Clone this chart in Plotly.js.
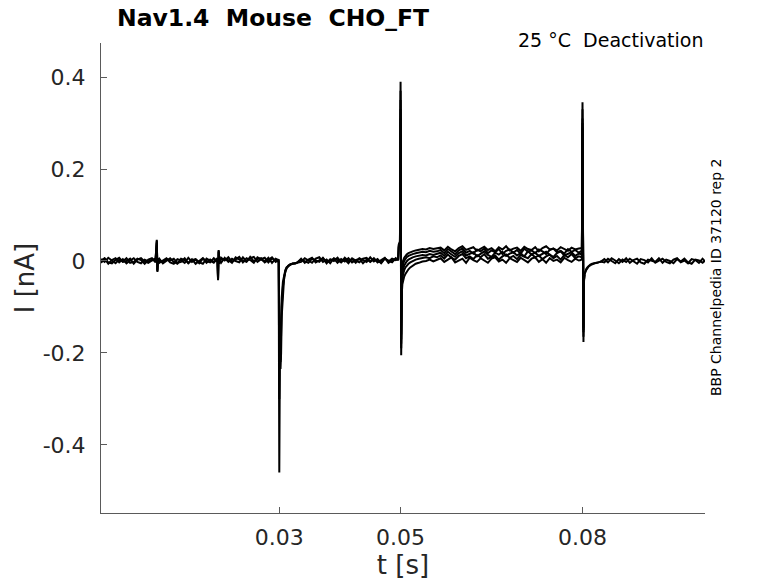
<!DOCTYPE html>
<html>
<head>
<meta charset="utf-8">
<script src="https://cdn.plot.ly/plotly-3.0.1.min.js"></script>
<style>
  html, body { margin: 0; padding: 0; background: #fff; }
  #chart { width: 778px; height: 583px; }
</style>
</head>
<body>
<div id="chart"></div>
<script>
// sample times [s], holding + step (all sweeps identical up to 0.05 s)
const tPre = [
  0.0006,0.0012,0.0018,0.0024,0.0030,0.0036,0.0042,0.0048,0.0054,0.0060,0.0066,0.0072,0.0078,0.0084,0.0090,0.0096,
  0.0098,0.0099,0.0100,0.0102,0.0108,0.0114,0.0120,0.0126,0.0132,0.0138,0.0144,0.0150,0.0156,0.0162,0.0168,0.0174,0.0180,0.0186,0.0192,0.0198,
  0.0199,0.0200,0.0201,0.0204,0.0210,0.0216,0.0222,0.0228,0.0234,0.0240,0.0246,0.0252,0.0258,0.0264,0.0270,0.0276,0.0282,0.0288,0.0294,0.0299,
  0.0300,0.0301,0.0302,0.0303,0.0304,0.0306,0.0308,0.0310,0.0312,0.0315,0.0318,0.0322,0.0326,0.0330,
  0.0336,0.0342,0.0348,0.0354,0.0360,0.0366,0.0372,0.0378,0.0384,0.0390,0.0396,0.0402,0.0408,0.0414,0.0420,0.0426,0.0432,0.0438,0.0444,0.0450,0.0456,0.0462,0.0468,0.0474,0.0480,0.0486,0.0492,
  0.0496,0.0497,0.0499
];
const iPreA = [
  0.004,-0.002,0.007,0.001,-0.005,0.003,-0.001,0.006,-0.004,-0.002,0.005,0.002,-0.006,0.003,0.006,-0.003,
  0.046,-0.024,0.006,-0.004,0.002,0.006,-0.003,-0.006,0.004,0.001,-0.004,0.007,-0.002,0.003,-0.005,0.005,0.000,-0.003,0.006,-0.001,
  -0.042,0.024,-0.006,0.007,0.001,0.008,-0.002,0.004,0.009,-0.003,0.006,0.002,-0.004,0.008,0.003,-0.001,0.007,-0.004,0.005,0.002,
  -0.46,-0.20,-0.22,-0.13,-0.08,-0.045,-0.030,-0.020,-0.014,-0.010,-0.007,-0.006,-0.005,-0.004,
  -0.002,0.006,0.001,-0.004,0.005,0.008,-0.002,0.003,-0.005,0.006,0.002,-0.003,0.007,0.000,0.004,-0.004,0.006,0.002,-0.002,0.008,-0.001,0.004,-0.005,0.005,0.001,-0.003,0.006,
  0.002,0.030,0.040
];
const iPreB = [
  -0.004,0.005,-0.006,0.002,0.006,-0.003,0.004,-0.005,0.001,0.006,-0.002,-0.005,0.003,-0.001,0.002,0.005,
  0.040,-0.020,0.002,0.005,-0.005,0.001,0.006,-0.002,-0.006,0.005,0.002,-0.004,0.004,-0.006,0.001,0.006,-0.004,0.003,-0.002,0.005,
  -0.038,0.020,0.004,-0.004,0.007,-0.002,0.005,0.000,-0.003,0.008,-0.001,0.006,0.009,-0.002,0.004,0.007,-0.003,0.006,0.001,-0.002,
  -0.13,-0.14,-0.235,-0.20,-0.12,-0.060,-0.035,-0.024,-0.016,-0.011,-0.008,-0.005,-0.006,-0.003,
  0.005,-0.004,0.003,0.007,-0.003,0.001,0.006,-0.005,0.004,0.000,0.007,-0.002,0.003,-0.005,0.006,0.001,-0.003,0.005,0.007,-0.002,0.004,0.000,-0.004,0.006,-0.001,0.005,0.002,
  0.004,0.036,0.042
];
const iPreC = [
  0.001,0.006,-0.003,-0.005,0.002,0.007,-0.002,0.000,0.005,-0.006,0.003,0.006,-0.001,-0.004,0.001,0.004,
  0.044,-0.022,0.004,0.001,-0.003,0.004,0.001,0.005,-0.004,-0.002,0.006,-0.005,0.002,0.004,-0.003,-0.006,0.005,0.001,-0.004,0.006,
  -0.040,0.022,0.001,0.003,0.005,0.002,-0.004,0.008,0.003,0.001,-0.002,0.009,-0.001,0.004,0.006,-0.003,0.002,0.008,-0.002,0.003,
  -0.30,-0.18,-0.215,-0.15,-0.10,-0.055,-0.032,-0.022,-0.015,-0.010,-0.008,-0.006,-0.004,-0.003,
  0.003,0.000,-0.004,0.005,0.002,-0.002,0.007,-0.003,0.001,0.005,-0.004,0.004,-0.001,0.006,-0.003,0.002,0.005,-0.005,0.003,-0.001,0.006,-0.003,0.002,0.007,-0.004,0.001,0.004,
  0.003,0.033,0.041
];

// deactivation tail, 0.05 - 0.08 s, one array per sweep
const tTail = [
  0.0499,0.0500,0.05005,0.0501,0.05015,0.0502,0.0503,0.0504,0.0506,0.0508,0.0510,0.0513,0.0516,0.0520,0.0525,0.0530,0.0536,0.0542,0.0548,0.0554,0.0560,
  0.0566,0.0572,0.0578,0.0584,0.0590,0.0596,0.0602,0.0608,0.0614,0.0620,0.0626,0.0632,0.0638,0.0644,0.0650,0.0656,0.0662,0.0668,0.0674,0.0680,
  0.0686,0.0692,0.0698,0.0704,0.0710,0.0716,0.0722,0.0728,0.0734,0.0740,0.0746,0.0752,0.0758,0.0764,0.0770,0.0776,0.0782,0.0788,0.0794,
  0.0797,0.0799,0.0800,0.08008,0.08016,0.0802,0.0803
];
const iTail1 = [
  0.040,0.39,0.10,-0.205,-0.12,-0.07,-0.050,-0.042,-0.034,-0.028,-0.023,-0.018,-0.014,-0.010,-0.006,-0.004,-0.001,0.000,0.003,-0.001,0.002,
  0.006,-0.002,0.004,0.008,-0.003,0.001,0.005,-0.004,0.007,0.002,-0.002,0.006,0.000,-0.004,0.005,0.008,-0.001,0.003,-0.004,0.006,
  0.002,-0.002,0.007,0.001,-0.003,0.005,0.008,-0.002,0.004,-0.004,0.006,0.000,0.003,-0.003,0.007,0.002,-0.002,0.005,0.001,
  0.002,0.004,0.345,0.05,-0.176,-0.06,-0.030
];
const iTail2 = [
  0.040,0.37,0.09,-0.19,-0.11,-0.06,-0.035,-0.028,-0.020,-0.014,-0.010,-0.006,-0.003,0.000,0.003,0.005,0.006,0.008,0.006,0.010,0.008,
  0.012,0.005,0.014,0.007,0.003,0.011,0.015,0.006,0.010,0.004,0.013,0.008,0.015,0.005,0.009,0.012,0.003,0.010,0.014,0.007,
  0.011,0.004,0.013,0.009,0.006,0.015,0.008,0.012,0.004,0.010,0.014,0.006,0.011,0.003,0.013,0.008,0.015,0.006,0.010,
  0.009,0.010,0.33,0.04,-0.165,-0.055,-0.030
];
const iTail3 = [
  0.040,0.35,0.08,-0.18,-0.10,-0.05,-0.025,-0.018,-0.010,-0.005,-0.001,0.003,0.006,0.008,0.010,0.011,0.013,0.012,0.015,0.013,0.016,
  0.018,0.011,0.020,0.014,0.009,0.017,0.021,0.012,0.016,0.019,0.010,0.015,0.021,0.013,0.009,0.018,0.014,0.020,0.011,0.016,
  0.019,0.012,0.017,0.010,0.021,0.014,0.018,0.011,0.016,0.020,0.013,0.009,0.017,0.021,0.012,0.015,0.019,0.011,0.016,
  0.015,0.016,0.31,0.03,-0.155,-0.05,-0.030
];
const iTail4 = [
  0.040,0.33,0.07,-0.17,-0.09,-0.04,-0.015,-0.008,0.000,0.004,0.008,0.011,0.013,0.015,0.017,0.018,0.020,0.019,0.022,0.020,0.021,
  0.024,0.017,0.026,0.020,0.015,0.023,0.027,0.018,0.022,0.016,0.025,0.021,0.027,0.017,0.023,0.019,0.026,0.015,0.022,0.025,
  0.018,0.024,0.016,0.027,0.020,0.023,0.017,0.025,0.021,0.015,0.024,0.027,0.019,0.022,0.016,0.026,0.020,0.024,0.018,
  0.021,0.022,0.30,0.03,-0.15,-0.05,-0.030
];
const iTail5 = [
  0.040,0.31,0.06,-0.16,-0.08,-0.03,-0.008,0.000,0.007,0.011,0.014,0.017,0.019,0.021,0.023,0.024,0.026,0.025,0.028,0.026,0.027,
  0.029,0.023,0.031,0.025,0.021,0.028,0.032,0.024,0.027,0.030,0.022,0.026,0.031,0.024,0.028,0.021,0.030,0.025,0.032,0.023,
  0.027,0.029,0.022,0.031,0.026,0.024,0.030,0.021,0.028,0.032,0.025,0.027,0.023,0.030,0.026,0.022,0.029,0.025,0.027,
  0.027,0.028,0.29,0.03,-0.145,-0.05,-0.030
];

// back to holding after 0.08 s
const tEnd = [
  0.0803,0.0804,0.0806,0.0808,0.0810,0.0813,0.0816,0.0820,0.0825,0.0830,
  0.0836,0.0842,0.0848,0.0854,0.0860,0.0866,0.0872,0.0878,0.0884,0.0890,0.0896,0.0902,0.0908,0.0914,
  0.0920,0.0926,0.0932,0.0938,0.0944,0.0950,0.0956,0.0962,0.0968,0.0974,0.0980,0.0986,0.0992,0.0998,0.1002
];
const iEndA = [
  -0.030,-0.024,-0.018,-0.014,-0.011,-0.008,-0.006,-0.004,-0.003,-0.002,
  0.004,-0.003,0.006,0.001,-0.005,0.003,-0.002,0.005,0.000,-0.006,0.004,0.002,-0.003,0.006,
  -0.004,0.001,0.005,-0.002,-0.005,0.003,0.006,-0.003,0.001,-0.005,0.004,0.002,-0.004,0.005,-0.001
];
const iEndB = [
  -0.030,-0.026,-0.020,-0.016,-0.012,-0.009,-0.007,-0.005,-0.004,-0.001,
  -0.003,0.005,0.000,-0.005,0.004,-0.002,0.006,-0.004,0.002,0.005,-0.003,-0.006,0.003,0.001,
  -0.002,0.006,-0.004,0.003,0.000,-0.005,0.004,-0.001,0.005,-0.003,-0.006,0.003,0.001,-0.004,0.001
];

const xTicks = [0.03, 0.05, 0.08];
const xTickText = ["0.03", "0.05", "0.08"];
const yTicks = [-0.4, -0.2, 0, 0.2, 0.4];
const yTickText = ["-0.4", "-0.2", "0", "0.2", "0.4"];

const sweeps = [
  [tPre, iPreA], [tPre, iPreB], [tPre, iPreC],
  [tTail, iTail1], [tTail, iTail2], [tTail, iTail3], [tTail, iTail4], [tTail, iTail5],
  [tEnd, iEndA], [tEnd, iEndB]
];

const traces = sweeps.map(([t, i]) => ({
  x: t,
  y: i,
  type: "scatter",
  mode: "lines",
  line: { color: "#000", width: 2 },
  hoverinfo: "skip"
}));

const font = "DejaVu Sans, sans-serif";
const axisColor = "#5a5a5a";
const textColor = "#262626";

Plotly.newPlot("chart", traces, {
  width: 778,
  height: 583,
  showlegend: false,
  paper_bgcolor: "#fff",
  plot_bgcolor: "#fff",
  margin: { l: 101, r: 73, t: 43, b: 70 },
  font: { family: font, color: textColor },
  xaxis: {
    range: [0.0006, 0.1002],
    tickvals: xTicks,
    ticktext: xTickText,
    ticks: "inside",
    ticklen: 6,
    tickcolor: axisColor,
    showline: true,
    linecolor: axisColor,
    linewidth: 1,
    showgrid: false,
    zeroline: false,
    tickfont: { size: 22, color: textColor },
    ticklabelstandoff: 5,
    title: { text: "t [s]", font: { size: 26, color: textColor }, standoff: 5 }
  },
  yaxis: {
    range: [-0.548, 0.474],
    tickvals: yTicks,
    ticktext: yTickText,
    ticks: "inside",
    ticklen: 6,
    tickcolor: axisColor,
    showline: true,
    linecolor: axisColor,
    linewidth: 1,
    showgrid: false,
    zeroline: false,
    tickfont: { size: 22, color: textColor },
    ticklabelstandoff: 10,
    title: { text: "I [nA]", font: { size: 26, color: textColor }, standoff: 0 }
  },
  annotations: [
    {
      text: "<b>Nav1.4  Mouse  CHO_FT</b>",
      xref: "paper", yref: "paper",
      x: 14 / 604, y: 1 + 25 / 470,
      xanchor: "left", yanchor: "middle",
      showarrow: false,
      font: { family: font, size: 23.5, color: "#000" }
    },
    {
      text: "25 °C  Deactivation",
      xref: "paper", yref: "paper",
      x: 1, y: 1 + 3 / 470,
      xanchor: "right", yanchor: "middle",
      showarrow: false,
      font: { family: font, size: 19, color: "#000" }
    },
    {
      text: "BBP Channelpedia ID 37120 rep 2",
      xref: "paper", yref: "paper",
      x: 1 + 11 / 604, y: 0.502,
      xanchor: "center", yanchor: "middle",
      textangle: -90,
      showarrow: false,
      font: { family: font, size: 14, color: "#000" }
    }
  ]
}, { staticPlot: true });
</script>
</body>
</html>
